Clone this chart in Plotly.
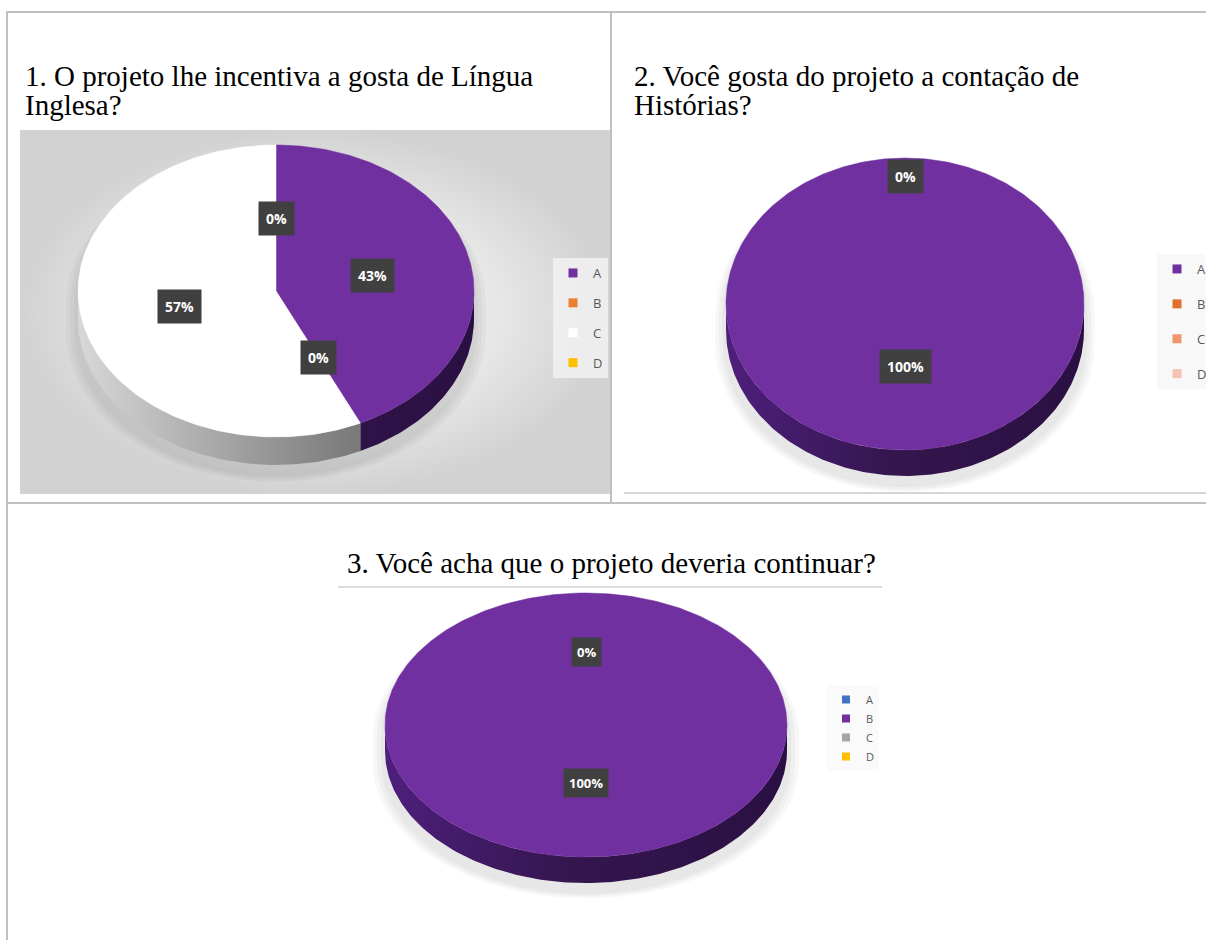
import numpy as np
import plotly.graph_objects as go

W, H = 1206, 940

# ---------------- data ----------------
categories = ["A", "B", "C", "D"]
q1_values = [43, 0, 57, 0]
q2_values = [100, 0, 0, 0]
q3_values = [0, 100, 0, 0]

q1_title = ["1. O projeto lhe incentiva a gosta de Língua", "Inglesa?"]
q2_title = ["2. Você gosta do projeto a contação de", "Histórias?"]
q3_title = ["3. Você acha que o projeto deveria continuar?"]

q1_colors = ["#7030A0", "#ED7D31", "#FFFFFF", "#FFC000"]
q2_colors = ["#7030A0", "#E0702A", "#F0966E", "#F5C3B4"]
q3_colors = ["#4472C4", "#7030A0", "#A5A5A5", "#FFC000"]

# ---------------- styling ----------------
side_scales = {
    "#7030A0": [[0, "#4e1f7c"], [0.45, "#35164f"], [1, "#2a1042"]],
    "#FFFFFF": [[0, "#d8d8d8"], [0.45, "#9a9a9a"], [0.7, "#7a7a7a"], [1, "#6a6a6a"]],
}

charts = [
    dict(values=q1_values, colors=q1_colors, cx=276, cy=291, rx=198, ry=146, depth=28,
         ax="2", legend="legend", zero_r=0.5, main_r=0.5, lab_size=14, pad=7),
    dict(values=q2_values, colors=q2_colors, cx=905, cy=304, rx=179, ry=146, depth=26,
         ax="3", legend="legend2", zero_r=0.87, main_r=0.43, lab_size=14, pad=7),
    dict(values=q3_values, colors=q3_colors, cx=586, cy=725, rx=201, ry=132, depth=26,
         ax="4", legend="legend3", zero_r=0.55, main_r=0.44, lab_size=13, pad=5),
]


def px_x(x):
    return x / W


def px_y(y):
    return 1 - y / H


def arc(a, b):
    n = max(2, int(abs(b - a) / 1.0) + 2)
    t = np.radians(np.linspace(a, b, n))
    return np.sin(t), np.cos(t)


fig = go.Figure()

# background of chart 1 image (pixel-coordinate decoration axis)
fig.add_trace(go.Scatter(
    x=[20, 610, 610, 20, 20], y=[130, 130, 494, 494, 130],
    mode="lines", fill="toself", line=dict(width=0),
    fillgradient=dict(type="radial",
                      colorscale=[[0, "#f8f8f8"], [0.6, "#e8e8e8"], [1, "#d2d2d2"]]),
    hoverinfo="skip", showlegend=False, xaxis="x", yaxis="y"))

annotations = []
layout_axes = {}

for ch in charts:
    vals = np.array(ch["values"], dtype=float)
    total = vals.sum()
    ang = vals / total * 360.0
    ends = np.cumsum(ang)
    starts = ends - ang
    dd = ch["depth"] / ch["ry"]
    xa, ya = "x" + ch["ax"], "y" + ch["ax"]

    pad_x, pad_top, pad_bot = 1.12, 1.1, 1 + dd + 0.25
    layout_axes["xaxis" + ch["ax"]] = dict(
        domain=[px_x(ch["cx"] - pad_x * ch["rx"]), px_x(ch["cx"] + pad_x * ch["rx"])],
        range=[-pad_x, pad_x], visible=False, fixedrange=True, anchor=ya)
    layout_axes["yaxis" + ch["ax"]] = dict(
        domain=[px_y(ch["cy"] + pad_bot * ch["ry"]), px_y(ch["cy"] - pad_top * ch["ry"])],
        range=[-pad_bot, pad_top], visible=False, fixedrange=True, anchor=xa)

    # soft shadow below the 3D silhouette
    bx, by = arc(-90, 90)
    fx, fy = arc(90, 270)
    sil_x = np.concatenate([bx, fx])
    sil_y = np.concatenate([by, fy - dd])
    for k in [0.06, 0.04, 0.02]:
        fig.add_trace(go.Scatter(
            x=sil_x * (1 + k), y=sil_y * (1 + k * 0.4) - dd * 0.35 - k * 0.3,
            mode="lines", fill="toself", line=dict(width=0),
            fillcolor="rgba(0,0,0,0.03)", hoverinfo="skip", showlegend=False,
            xaxis=xa, yaxis=ya))

    # 3D sides
    for s, e, col in zip(starts, ends, ch["colors"]):
        a, b = max(s, 90.0), min(e, 270.0)
        if b <= a:
            continue
        tx, ty = arc(a, b)
        xs = np.concatenate([tx, tx[::-1], tx[:1]])
        ys = np.concatenate([ty, ty[::-1] - dd, ty[:1]])
        fig.add_trace(go.Scatter(
            x=xs, y=ys, mode="lines", fill="toself", line=dict(width=0),
            fillgradient=dict(type="horizontal", start=-1, stop=1,
                              colorscale=side_scales.get(col, [[0, col], [1, col]])),
            hoverinfo="skip", showlegend=False, xaxis=xa, yaxis=ya))

    # top faces
    for s, e, col, cat, v in zip(starts, ends, ch["colors"], categories, vals):
        if e - s <= 0:
            continue
        tx, ty = arc(s, e)
        if e - s >= 359.999:
            xs, ys = tx, ty
        else:
            xs = np.concatenate([[0], tx, [0]])
            ys = np.concatenate([[0], ty, [0]])
        fig.add_trace(go.Scatter(
            x=xs, y=ys, mode="lines", fill="toself",
            line=dict(width=0.5, color=col), fillcolor=col,
            name=cat, hovertemplate=f"{cat}: {v:.0f}%<extra></extra>",
            showlegend=False, xaxis=xa, yaxis=ya))

    # data labels
    seen = set()
    for s, e, v in zip(starts, ends, vals):
        mid = np.radians((s + e) / 2)
        r = ch["zero_r"] if v == 0 else ch["main_r"]
        lx, ly = float(np.sin(mid) * r), float(np.cos(mid) * r)
        key = (round(lx, 3), round(ly, 3))
        if key in seen:
            continue
        seen.add(key)
        annotations.append(dict(
            x=lx, y=ly, xref=xa, yref=ya, text=f"<b>{v / total * 100:.0f}%</b>",
            showarrow=False, bgcolor="#404040", borderpad=ch["pad"],
            font=dict(family="Open Sans, sans-serif", size=ch["lab_size"], color="white")))

    # legend entries
    for cat, col in zip(categories, ch["colors"]):
        fig.add_trace(go.Scatter(
            x=[None], y=[None], mode="markers", name=cat,
            marker=dict(symbol="square", size=9 if ch["ax"] != "4" else 8, color=col),
            legend=ch["legend"], legendgroup=ch["legend"] + cat,
            showlegend=True, xaxis=xa, yaxis=ya))

# ---------------- titles ----------------
serif = "Liberation Serif, Times New Roman, serif"
for i, line in enumerate(q1_title):
    annotations.append(dict(x=px_x(23), y=px_y(76 + 29 * i), xref="paper", yref="paper",
                            text=line, showarrow=False, xanchor="left", yanchor="middle",
                            font=dict(family=serif, size=29, color="black")))
for i, line in enumerate(q2_title):
    annotations.append(dict(x=px_x(632), y=px_y(76 + 29 * i), xref="paper", yref="paper",
                            text=line, showarrow=False, xanchor="left", yanchor="middle",
                            font=dict(family=serif, size=29, color="black")))
annotations.append(dict(x=px_x(611), y=px_y(563), xref="paper", yref="paper",
                        text=q3_title[0], showarrow=False, xanchor="center", yanchor="middle",
                        font=dict(family=serif, size=29, color="black")))

# ---------------- table lines ----------------
def hline(x0, x1, y, color="#bfbfbf", w=2):
    return dict(type="line", xref="paper", yref="paper", x0=px_x(x0), x1=px_x(x1),
                y0=px_y(y), y1=px_y(y), line=dict(color=color, width=w))


def vline(x, y0, y1, color="#bfbfbf", w=2):
    return dict(type="line", xref="paper", yref="paper", x0=px_x(x), x1=px_x(x),
                y0=px_y(y0), y1=px_y(y1), line=dict(color=color, width=w))


shapes = [
    hline(6, W, 12),
    vline(7, 12, H),
    vline(611, 12, 503),
    hline(6, W, 503),
    hline(624, W, 493, color="#c8c8c8", w=1.5),
    hline(338, 882, 587, color="#dcdcdc", w=2),
]

legend_font = dict(family="Open Sans, sans-serif", color="#595959")

fig.update_layout(
    width=W, height=H,
    margin=dict(l=0, r=0, t=0, b=0, autoexpand=False),
    paper_bgcolor="white", plot_bgcolor="rgba(0,0,0,0)",
    xaxis=dict(domain=[0, 1], range=[0, W], visible=False, fixedrange=True),
    yaxis=dict(domain=[0, 1], range=[H, 0], visible=False, fixedrange=True),
    annotations=annotations,
    shapes=shapes,
    legend=dict(x=px_x(553), y=px_y(258), xanchor="left", yanchor="top",
                bgcolor="rgba(240,240,240,0.9)", font=dict(size=13, **legend_font),
                tracegroupgap=10),
    legend2=dict(x=px_x(1157), y=px_y(254), xanchor="left", yanchor="top",
                 bgcolor="#f8f8f8", font=dict(size=13, **legend_font),
                 tracegroupgap=15),
    legend3=dict(x=px_x(826), y=px_y(685), xanchor="left", yanchor="top",
                 bgcolor="#fafafa", font=dict(size=11, **legend_font),
                 tracegroupgap=0),
    **layout_axes,
)

fig.write_html("out.html")
